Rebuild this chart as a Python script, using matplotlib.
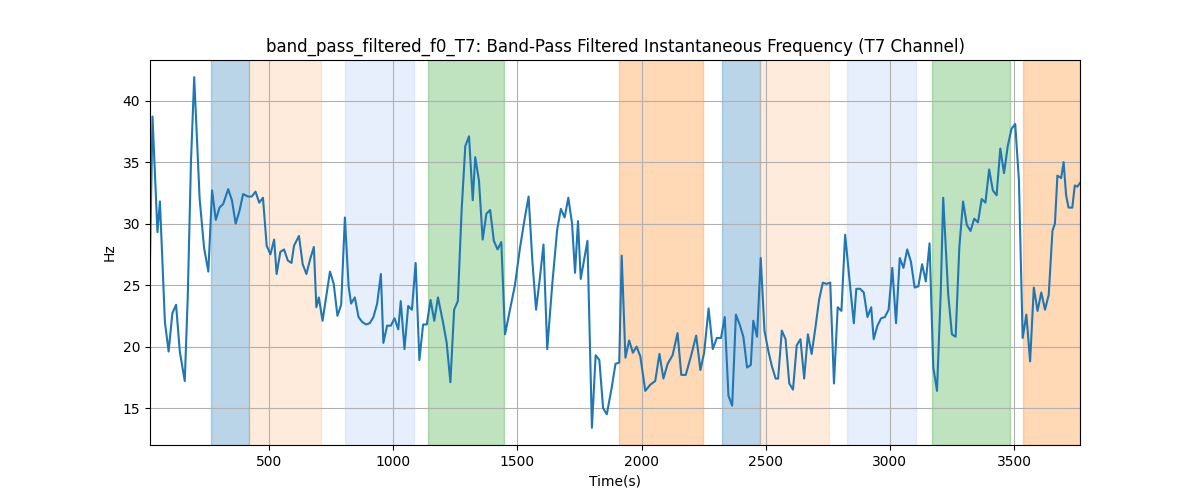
import numpy as np
import matplotlib
matplotlib.use('Agg')
import matplotlib.pyplot as plt

# (time, Hz) pairs
samples = [
    (20, 27), (30, 38.7), (50, 29.3), (60, 31.8), (80, 22), (95, 19.6), (110, 22.7), (125, 23.4),
    (140, 19.6), (160, 17.2), (172, 24), (185, 35), (198, 41.9), (220, 32), (238, 28), (255, 26.1),
    (270, 32.7), (285, 30.3), (300, 31.3), (315, 31.6), (335, 32.8), (350, 31.9), (365, 30), (380, 31),
    (395, 32.4), (415, 32.2), (430, 32.2), (445, 32.6), (460, 31.7), (475, 32.1), (490, 28.2), (505, 27.5),
    (520, 28.7), (530, 25.9), (545, 27.7), (560, 27.9), (575, 27), (590, 26.8), (600, 28.2), (620, 29),
    (635, 26.7), (650, 25.9), (665, 27.1), (680, 28.1), (690, 23.2), (700, 24), (715, 22.1), (730, 24.1),
    (745, 26.1), (760, 25.1), (775, 22.5), (790, 23.4), (805, 30.5), (820, 24.9), (830, 23.5), (845, 24),
    (860, 22.4), (875, 22), (890, 21.8), (905, 21.9), (920, 22.4), (935, 23.5), (950, 25.9), (960, 20.3),
    (975, 21.7), (990, 21.7), (1005, 22.3), (1020, 21.4), (1030, 23.7), (1045, 19.8), (1060, 23.3), (1075, 23),
    (1090, 26.8), (1105, 18.9), (1120, 21.8), (1135, 21.8), (1150, 23.8), (1165, 22.1), (1180, 24), (1200, 22),
    (1215, 20.3), (1230, 17.1), (1245, 23), (1260, 23.7), (1275, 31), (1290, 36.3), (1305, 37.1), (1320, 31.9),
    (1330, 35.4), (1345, 33.5), (1360, 28.7), (1375, 30.8), (1390, 31.1), (1405, 28.6), (1420, 27.9), (1435, 28.5),
    (1450, 21), (1470, 23), (1490, 25), (1510, 28), (1530, 30.5), (1545, 32.2), (1560, 27), (1575, 23),
    (1590, 25.5), (1605, 28.3), (1620, 19.8), (1640, 25), (1660, 29.5), (1675, 31.2), (1690, 30.5), (1705, 32.1),
    (1720, 30), (1732, 26), (1744, 30.2), (1755, 25.5), (1768, 27), (1782, 28.6), (1792, 20), (1800, 13.4),
    (1815, 19.3), (1830, 18.9), (1845, 15), (1860, 14.5), (1880, 16.7), (1895, 18.6), (1910, 18.7), (1920, 27.4),
    (1935, 19.1), (1950, 20.5), (1965, 19.5), (1980, 20), (1995, 19.2), (2015, 16.4), (2035, 16.9), (2055, 17.2),
    (2072, 19.4), (2088, 17.4), (2105, 18.6), (2125, 19.3), (2145, 21.1), (2160, 17.7), (2178, 17.7), (2200, 19.3),
    (2220, 20.9), (2237, 18.1), (2252, 19.5), (2270, 23.1), (2287, 19.8), (2303, 20.7), (2320, 20.7), (2335, 22.4),
    (2350, 16), (2365, 15.2), (2380, 22.6), (2395, 21.8), (2410, 20.8), (2425, 18.3), (2440, 18.5), (2450, 22.1),
    (2465, 20.8), (2480, 27.2), (2495, 21.3), (2510, 19.7), (2525, 18.4), (2540, 17.4), (2550, 17.4), (2565, 21.3),
    (2580, 20.6), (2595, 17), (2610, 16.5), (2625, 20.1), (2640, 20.6), (2655, 17.4), (2670, 21), (2685, 19.4),
    (2700, 21.5), (2715, 23.8), (2730, 25.2), (2745, 25.1), (2760, 25.2), (2775, 17), (2790, 23.2), (2805, 22.9),
    (2820, 29.1), (2840, 24.9), (2855, 21.9), (2865, 24.7), (2880, 24.7), (2895, 24.4), (2910, 22.4), (2925, 23.2),
    (2935, 20.6), (2950, 21.7), (2965, 22.3), (2980, 22.4), (2995, 23), (3010, 26.4), (3025, 21.9), (3040, 27.2),
    (3055, 26.4), (3070, 27.9), (3085, 26.9), (3100, 24.8), (3115, 24.9), (3130, 26.7), (3145, 25.3), (3160, 28.4),
    (3175, 18.3), (3190, 16.4), (3205, 24.4), (3215, 32.1), (3235, 24.3), (3250, 21), (3265, 20.8), (3280, 28.1),
    (3295, 31.8), (3310, 29.9), (3325, 29.4), (3340, 30.4), (3355, 30.1), (3370, 32), (3385, 31.7), (3400, 34.4),
    (3415, 32.7), (3430, 32.3), (3445, 36.1), (3460, 34.1), (3475, 36.3), (3490, 37.7), (3505, 38.1), (3520, 33.5),
    (3535, 20.7), (3550, 22.6), (3565, 18.8), (3580, 24.8), (3595, 22.9), (3610, 24.4), (3625, 23), (3640, 24.2),
    (3655, 29.4), (3665, 30), (3675, 33.9), (3690, 33.7), (3700, 35), (3710, 32.3), (3720, 31.3), (3735, 31.3),
    (3745, 33.1), (3755, 33), (3766, 33.3),
]
time_s = np.array([s[0] for s in samples])
freq_hz = np.array([s[1] for s in samples])

# shaded spans: (start, end, colour, alpha)
span_start = [266, 419, 806, 1141, 1911, 2323, 2476, 2827, 3169, 3536]
span_end = [419, 710, 1085, 1444, 2246, 2476, 2754, 3105, 3484, 3766]
span_color = ['tab:blue', 'tab:orange', 'cornflowerblue', 'tab:green', 'tab:orange',
              'tab:blue', 'tab:orange', 'cornflowerblue', 'tab:green', 'tab:orange']
span_alpha = [0.3, 0.15, 0.15, 0.3, 0.3, 0.3, 0.15, 0.15, 0.3, 0.3]

fig, ax = plt.subplots(figsize=(12, 5), dpi=100)
for s, e, c, a in zip(span_start, span_end, span_color, span_alpha):
    ax.axvspan(s, e, color=c, alpha=a)
ax.plot(time_s, freq_hz, color='tab:blue')
ax.grid(True, color='#b0b0b0')
ax.set_xlim(time_s.min(), time_s.max())
ax.set_ylim(12, 43.3)
ax.set_xlabel('Time(s)')
ax.set_ylabel('Hz')
ax.set_title('band_pass_filtered_f0_T7: Band-Pass Filtered Instantaneous Frequency (T7 Channel)')
fig.savefig('out.png')
